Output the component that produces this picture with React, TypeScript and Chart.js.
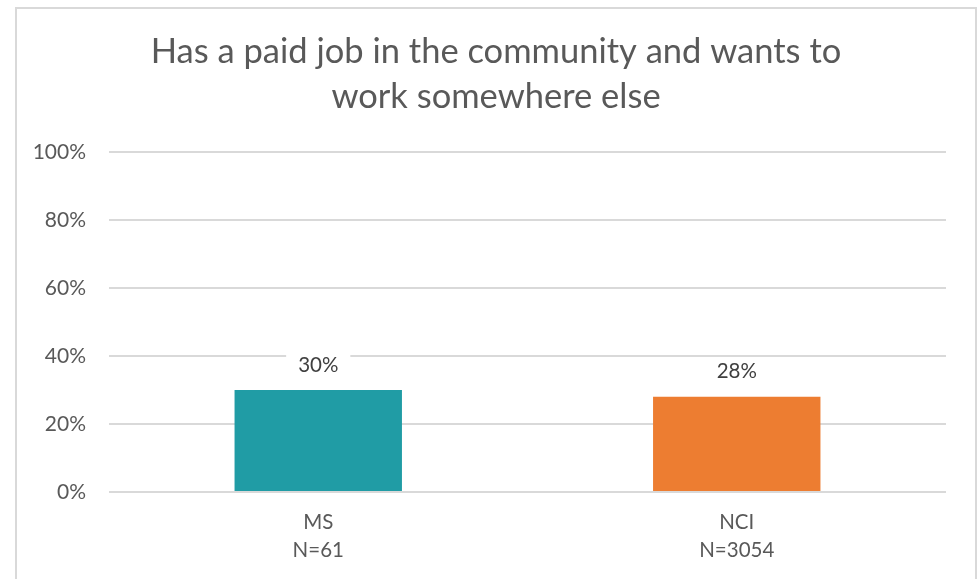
import React, { useEffect, useRef } from "react";
import { Chart, registerables } from "chart.js";

Chart.register(...registerables);

const categories: string[][] = [["MS", "N=61"], ["NCI", "N=3054"]];
const values: number[] = [30, 28];
const barColors: string[] = ["#209CA5", "#ED7D31"];
const yMin = 0;
const yMax = 100;
const yStep = 20;
const titleLines: string[] = ["Has a paid job in the community and wants to", "work somewhere else"];

const FONT = "Lato";

const titlePlugin = {
  id: "customTitle",
  beforeDraw(chart: any) {
    const ctx = chart.ctx;
    ctx.save();
    ctx.font = `34.5px ${FONT}`;
    ctx.fillStyle = "#595959";
    ctx.textAlign = "center";
    ctx.textBaseline = "middle";
    const cx = chart.width / 2;
    titleLines.forEach((line, i) => {
      ctx.fillText(line, cx, 43 + i * 45);
    });
    ctx.restore();
  },
};

const labelPlugin = {
  id: "barLabels",
  afterDatasetsDraw(chart: any) {
    const ctx = chart.ctx;
    const meta = chart.getDatasetMeta(0);
    ctx.save();
    ctx.font = `20.5px ${FONT}`;
    meta.data.forEach((bar: any, i: number) => {
      const text = values[i] + "%";
      const w = ctx.measureText(text).width;
      const cx = bar.x;
      const cy = bar.y - 25;
      ctx.fillStyle = "#ffffff";
      ctx.fillRect(cx - w / 2 - 12, cy - 14, w + 24, 28);
      ctx.fillStyle = "#404040";
      ctx.textAlign = "center";
      ctx.textBaseline = "middle";
      ctx.fillText(text, cx, cy);
    });
    ctx.restore();
  },
};

export default function App() {
  const ref = useRef<HTMLCanvasElement | null>(null);
  useEffect(() => {
    if (!ref.current) return;
    const chart = new Chart(ref.current, {
      type: "bar",
      data: {
        labels: categories,
        datasets: [
          {
            data: values,
            backgroundColor: barColors,
            borderWidth: 0,
            categoryPercentage: 1,
            barPercentage: 0.4,
          },
        ],
      },
      options: {
        responsive: false,
        animation: false,
        layout: { padding: { left: 0, right: 29, top: 143, bottom: 0 } },
        plugins: {
          legend: { display: false },
          tooltip: { enabled: false },
          title: { display: false },
        },
        scales: {
          x: {
            grid: { display: false, drawTicks: false },
            border: { display: false },
            ticks: {
              color: "#595959",
              font: { family: FONT, size: 20.5, lineHeight: 28 / 20.5 },
              padding: 16,
              maxRotation: 0,
            },
            afterFit: (scale: any) => {
              scale.height = 103;
            },
          },
          y: {
            min: yMin,
            max: yMax,
            grid: { color: "#d9d9d9", lineWidth: 2, drawTicks: false },
            border: { display: false },
            ticks: {
              stepSize: yStep,
              color: "#595959",
              font: { family: FONT, size: 21 },
              padding: 23,
              callback: (v: any) => v + "%",
            },
            afterFit: (scale: any) => {
              scale.width = 92;
            },
          },
        },
      },
      plugins: [titlePlugin, labelPlugin],
    });
    return () => chart.destroy();
  }, []);

  return (
    <div
      style={{
        position: "absolute",
        left: 15,
        top: 7,
        width: 962,
        height: 590,
        border: "2px solid #d9d9d9",
        boxSizing: "border-box",
        background: "#ffffff",
      }}
    >
      <canvas ref={ref} width={958} height={586} style={{ display: "block" }} />
    </div>
  );
}
